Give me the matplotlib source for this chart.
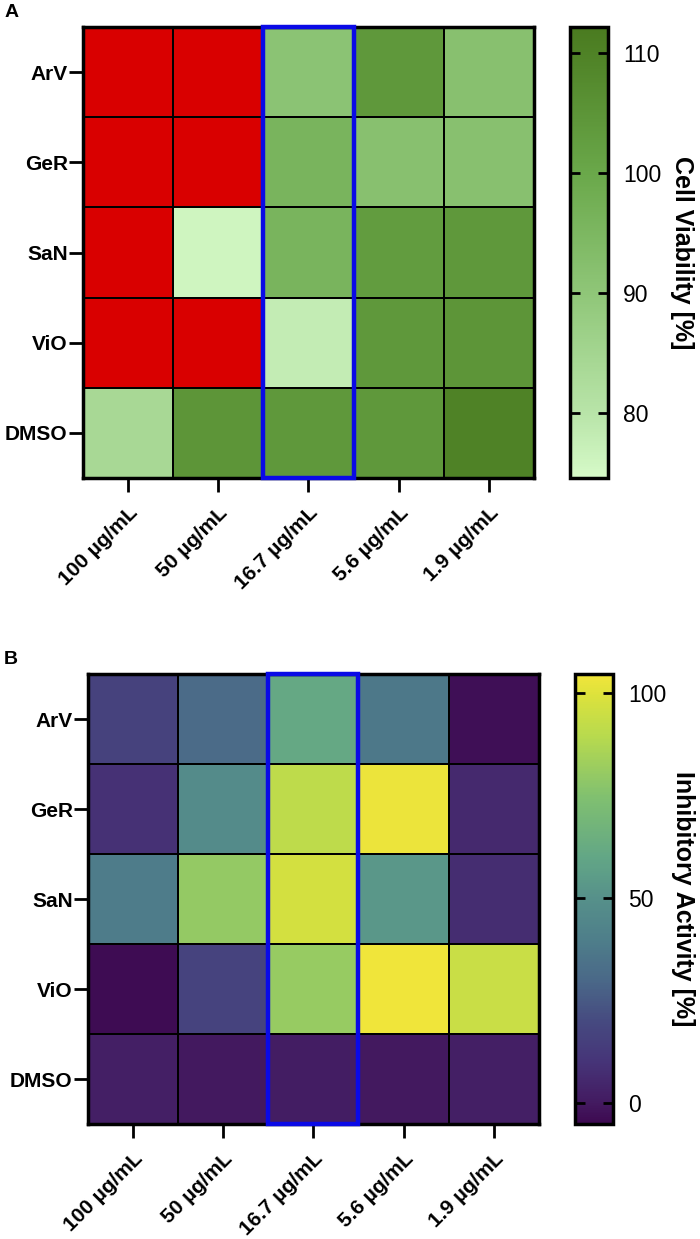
import numpy as np
import matplotlib as mpl
from matplotlib import pyplot as plt
from matplotlib.colors import LinearSegmentedColormap
from matplotlib.patches import Rectangle

plt.rcParams['font.family'] = ['Liberation Sans', 'DejaVu Sans']

extracts = ['ArV', 'GeR', 'SaN', 'ViO', 'DMSO']
concs = ['100 µg/mL', '50 µg/mL', '16.7 µg/mL', '5.6 µg/mL', '1.9 µg/mL']

# cell viability [%], values below 75 are shown red
viability = np.array([
    [10, 10, 91, 104, 92],
    [10, 10, 96, 92, 92],
    [10, 76, 96, 103, 104],
    [10, 10, 78, 104, 105],
    [84, 105, 104, 104, 110],
])

# inhibitory activity [%]
inhibition = np.array([
    [16, 31, 61, 37, -3],
    [9, 47, 91, 103, 6],
    [39, 80, 97, 53, 7],
    [-4, 17, 81, 104, 94],
    [2, 0, 1, 0, 2],
])

greens = LinearSegmentedColormap.from_list('viab', [
    (0.0, '#d6fac8'), (0.144, '#b8e4a8'), (0.41, '#8fc678'),
    (0.676, '#6aa84a'), (0.941, '#4f8226'), (1.0, '#4a7b20')], N=256)
greens.set_under('#d90000')

# desaturated viridis-like map as in the original figure
vir = LinearSegmentedColormap.from_list('vir', [
    (0.0, '#3d0950'), (0.045, '#431a60'), (0.136, '#463478'),
    (0.227, '#464a80'), (0.318, '#4a6888'), (0.409, '#4e7e8a'),
    (0.5, '#56908a'), (0.591, '#62a686'), (0.727, '#80c070'),
    (0.864, '#b8da4e'), (0.955, '#dce23c'), (1.0, '#f2e53a')], N=256)

fig = plt.figure(figsize=(7, 12.39), dpi=100)


def panel(rect, cbrect, data, cmap, vmin, vmax, ticks, label, letter, lpad):
    ax = fig.add_axes(rect)
    x = np.arange(data.shape[1] + 1)
    y = np.arange(data.shape[0] + 1)
    mesh = ax.pcolormesh(x, y, data, cmap=cmap, vmin=vmin, vmax=vmax,
                         edgecolors='black', linewidth=1.2)
    ax.set_xlim(0, 5)
    ax.set_ylim(5, 0)
    ax.set_xticks(np.arange(5) + 0.5)
    ax.set_yticks(np.arange(5) + 0.5)
    ax.set_xticklabels(concs, rotation=45, ha='right', rotation_mode='anchor',
                       fontsize=15, fontweight='bold')
    ax.set_yticklabels(extracts, fontsize=15, fontweight='bold')
    ax.tick_params(axis='both', length=10, width=2, pad=1)
    ax.tick_params(axis='x', pad=8)
    for s in ax.spines.values():
        s.set_linewidth(2.5)
    ax.add_patch(Rectangle((2, 0), 1, 5, fill=False, edgecolor='#0a0ae6',
                           linewidth=3.2, clip_on=False, zorder=5))

    cax = fig.add_axes(cbrect)
    cb = fig.colorbar(mesh, cax=cax, ticks=ticks)
    cb.outline.set_linewidth(2.5)
    cax.tick_params(direction='in', left=True, right=True, length=7, width=2,
                    labelsize=16.5, pad=11)
    cb.set_label(label, rotation=270, fontsize=18, fontweight='bold', labelpad=lpad)
    fig.text(0.006, rect[1] + rect[3] + 0.005, letter,
             fontsize=14, fontweight='bold', ha='left', va='bottom')
    return ax


panel([0.1186, 0.6142, 0.644, 0.364], [0.814, 0.6142, 0.054, 0.364],
      viability, greens, 74.6, 112.2, [80, 90, 100, 110],
      'Cell Viability [%]', 'A', 24)

panel([0.1257, 0.0928, 0.644, 0.363], [0.821, 0.0928, 0.054, 0.363],
      inhibition, vir, -5.1, 104.6, [0, 50, 100],
      'Inhibitory Activity [%]', 'B', 21)

plt.savefig('out.png', dpi=100)
